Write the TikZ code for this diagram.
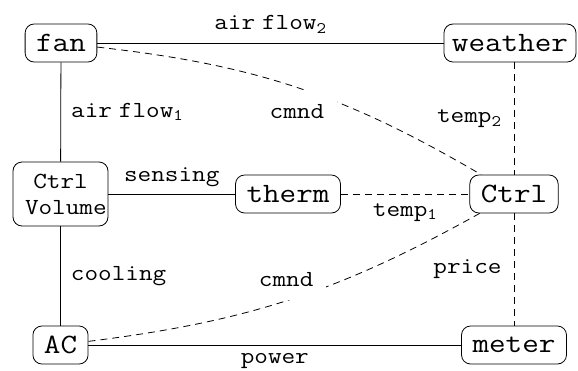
\documentclass[tikz,border=0pt]{standalone}
\usepackage{fontspec}
\setmonofont[FakeStretch=1.15]{Latin Modern Mono}
\begin{document}
\begin{tikzpicture}[x=1pt,y=-1pt,
  box/.style={draw, line width=0.8pt, rounded corners=9pt, minimum height=38pt, inner xsep=11pt, inner ysep=2pt, font=\ttfamily\fontsize{28}{31}\selectfont},
  lbl/.style={font=\ttfamily\fontsize{23}{26}\selectfont, inner sep=3pt},
  conn/.style={line width=0.8pt},
  dconn/.style={conn, dash pattern=on 7pt off 5pt},
  cmd/.style={lbl, fill=white, minimum width=80pt, minimum height=42pt}]
\useasboundingbox (0,0) rectangle (578,370);
\node[box] (fan) at (61,43) {fan};
\node[box, inner xsep=8pt] (weather) at (510,43) {weather};
\node[box, font=\ttfamily\fontsize{23}{26}\selectfont, text width=71pt, align=center, inner xsep=12pt, minimum height=64pt] (cv) at (60.5,194) {Ctrl\\Volume};
\node[box] (therm) at (288,194) {therm};
\node[box] (ctrl) at (514,194) {Ctrl};
\node[box] (ac) at (60.5,345) {AC};
\node[box] (meter) at (514,345) {meter};
\draw[conn] (fan) -- node[lbl, above=6pt] {air\hspace{0.3em}flow\textsubscript{2}} (weather);
\draw[conn] (fan) -- node[lbl, right=7pt] {air\hspace{0.3em}flow\textsubscript{1}} (cv);
\draw[conn] (cv) -- node[lbl, above=4pt] {sensing} (therm);
\draw[dconn] (therm) -- node[lbl, below=6pt] {temp\textsubscript{1}} (ctrl);
\draw[conn] (cv) -- node[lbl, right=7pt] {cooling} (ac);
\draw[conn] (ac) -- node[lbl, below=5pt] {power} (meter);
\draw[dconn] (weather.south -| ctrl.north) -- node[lbl, left=9pt] {temp\textsubscript{2}} (ctrl.north);
\draw[dconn] (ctrl) -- node[lbl, left=9pt] {price} (meter);
\draw[dconn] (fan) to[bend left=12] node[cmd, pos=0.5, yshift=-24pt] {cmnd} (ctrl);
\draw[dconn] (ac) to[bend right=11] node[cmd, pos=0.5, xshift=-5pt, yshift=20pt] {cmnd} (ctrl);
\end{tikzpicture}
\end{document}
